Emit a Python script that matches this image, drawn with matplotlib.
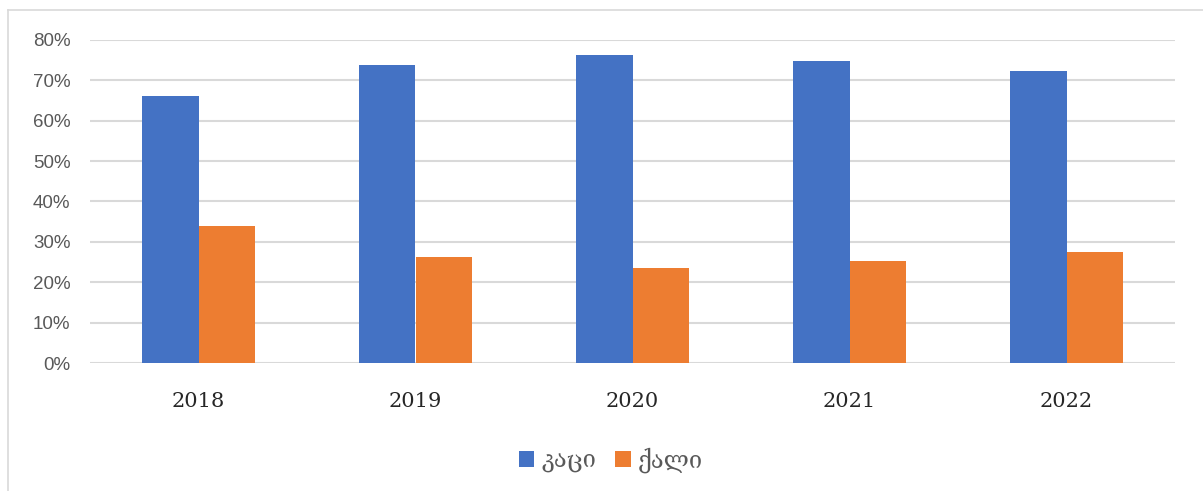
import matplotlib.pyplot as plt
import numpy as np
from matplotlib.lines import Line2D

years = ["2018", "2019", "2020", "2021", "2022"]
men = [66.1, 73.7, 76.4, 74.8, 72.4]
women = [33.9, 26.3, 23.6, 25.2, 27.6]
series_names = ["კაცი", "ქალი"]

blue = "#4472C4"
orange = "#ED7D31"
grid_col = "#d9d9d9"

fig = plt.figure(figsize=(12.03, 4.91), dpi=100)
ax = fig.add_axes([90 / 1203, 1 - 363 / 491, (1175 - 90) / 1203, (363 - 40) / 491])

x = np.arange(len(years))
w = 0.262
ax.bar(x - w / 2, men, w, color=blue, label=series_names[0], zorder=3)
ax.bar(x + w / 2, women, w, color=orange, label=series_names[1], zorder=3)

ax.set_xlim(-0.5, len(years) - 0.5)
ax.set_ylim(0, 80)
ax.set_yticks(np.arange(0, 81, 10))
ax.set_yticklabels([f"{v}%" for v in range(0, 81, 10)])
ax.set_xticks(x)
ax.set_xticklabels(years, family="DejaVu Serif", fontsize=15, color="#262626")

ax.tick_params(axis="y", length=0, pad=14, labelsize=13.5, labelcolor="#595959")
ax.tick_params(axis="x", length=0, pad=21)
for lab in ax.get_yticklabels():
    lab.set_family("Liberation Sans")

ax.yaxis.grid(True, color=grid_col, linewidth=1.5, zorder=0)
for s in ax.spines.values():
    s.set_visible(False)

# outer chart frame (top and left edges visible)
fig.add_artist(Line2D([8 / 1203, 8 / 1203], [0, 1 - 10 / 491], color=grid_col, linewidth=1.2))
fig.add_artist(Line2D([8 / 1203, 1], [1 - 10 / 491, 1 - 10 / 491], color=grid_col, linewidth=1.2))

leg = fig.legend(loc="center", bbox_to_anchor=(611 / 1203, 1 - 460 / 491), ncol=2, frameon=False,
                 prop={"family": ["DejaVu Serif", "DejaVu Sans"], "size": 17}, handlelength=0.65,
                 handleheight=0.65, handletextpad=0.3, columnspacing=0.8)
for t in leg.get_texts():
    t.set_color("#595959")

fig.savefig("out.png", dpi=100)
